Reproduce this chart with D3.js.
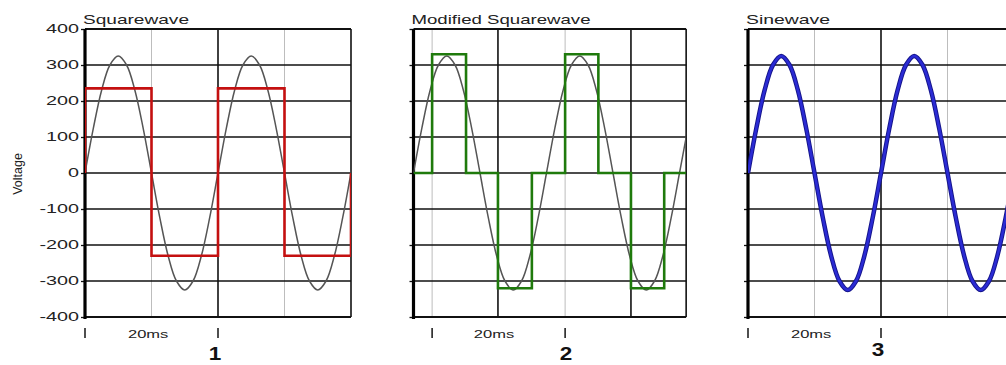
<!DOCTYPE html>
<html>
<head>
<meta charset="utf-8">
<script src="https://cdn.jsdelivr.net/npm/d3@7"></script>
<style>
  body { margin: 0; background: #fff; }
  svg { display: block; }
</style>
</head>
<body>
<svg id="chart"></svg>
<script>
// sine samples every 1.25 ms (50 Hz, ~325 V peak)
const timeMs = [0, 1.25, 2.5, 3.75, 5, 6.25, 7.5, 8.75, 10, 11.25, 12.5, 13.75, 15, 16.25, 17.5, 18.75,
  20, 21.25, 22.5, 23.75, 25, 26.25, 27.5, 28.75, 30, 31.25, 32.5, 33.75, 35, 36.25, 37.5, 38.75, 40, 41.25];
const sineV = [0, 124, 230, 300, 325, 300, 230, 124, 0, -124, -230, -300, -325, -300, -230, -124,
  0, 124, 230, 300, 325, 300, 230, 124, 0, -124, -230, -300, -325, -300, -230, -124, 0, 124];

// square wave corners
const squareT = [0, 0, 10, 10, 20, 20, 30, 30, 40, 40];
const squareV = [0, 235, 235, -230, -230, 235, 235, -230, -230, 0];

// modified square wave corners
const modT = [0, 2.8, 2.8, 7.9, 7.9, 12.7, 12.7, 17.8, 17.8, 22.8, 22.8, 27.8, 27.8, 32.7, 32.7, 37.7, 37.7, 41];
const modV = [0, 0, 330, 330, 0, 0, -320, -320, 0, 0, 330, 330, 0, 0, -320, -320, 0, 0];

const yTicks = [400, 300, 200, 100, 0, -100, -200, -300, -400];
const titles = ["Squarewave", "Modified Squarewave", "Sinewave"];
const panelNames = ["1", "2", "3"];

const width = 1006;
const height = 365;
const pxPerMs = 6.65;

const svg = d3.select("#chart").attr("width", width).attr("height", height);

const y = d3.scaleLinear().domain([-400, 400]).range([317, 29]);

const panels = [
  { left: 85, end: 40, gray: [10, 30], black: [20, 40], marks: [0, 20], label: 9.5, wave: "square",
    titleW: 106, numX: 215, numY: 360 },
  { left: 413.5, end: 41, gray: [2.8, 22.8], black: [12.7, 32.7, 41], marks: [2.8, 22.8], label: 12.1, wave: "mod",
    titleW: 179, numX: 566, numY: 360 },
  { left: 748, end: 40, gray: [10, 30], black: [20, 40], marks: [0, 20], label: 9.5, wave: "sine",
    titleW: 84, numX: 878, numY: 356 }
];

const font = "Liberation Sans, Arial, sans-serif";

panels.forEach(function (p, i) {
  let x = d3.scaleLinear().domain([0, p.end]).range([p.left, p.left + p.end * pxPerMs]);
  let g = svg.append("g");

  g.append("clipPath").attr("id", "clip" + i)
    .append("rect")
    .attr("x", x(0)).attr("y", y(400) - 3)
    .attr("width", x(p.end) - x(0)).attr("height", y(-400) - y(400) + 6);

  // vertical grid
  g.selectAll(".vg").data(p.gray).enter().append("line")
    .attr("x1", d => x(d)).attr("x2", d => x(d))
    .attr("y1", y(400)).attr("y2", y(-400))
    .attr("stroke", "#bdbdbd").attr("stroke-width", 1);
  g.selectAll(".vb").data(p.black).enter().append("line")
    .attr("x1", d => x(d)).attr("x2", d => x(d))
    .attr("y1", y(400)).attr("y2", y(-400))
    .attr("stroke", "#111").attr("stroke-width", 1.6);

  // horizontal grid
  g.selectAll(".hg").data(yTicks).enter().append("line")
    .attr("x1", x(0)).attr("x2", x(p.end))
    .attr("y1", d => y(d)).attr("y2", d => y(d))
    .attr("stroke", "#111").attr("stroke-width", d => (d === 400 || d === -400) ? 1.8 : 1.3);

  // y axis
  let yAxis = d3.axisLeft(y).tickValues(yTicks).tickSize(4).tickPadding(2)
    .tickFormat(i === 0 ? (d => String(d)) : "");
  let ax = g.append("g").attr("transform", "translate(" + x(0) + ",0)").call(yAxis);
  ax.select(".domain").remove();
  ax.selectAll(".tick line").attr("stroke", "#111").attr("stroke-width", 1.3);
  ax.selectAll(".tick text")
    .attr("font-family", font).attr("font-size", "12px").attr("fill", "#222")
    .attr("x", -6 / 1.65)
    .attr("transform", "scale(1.65,1)");
  g.append("line")
    .attr("x1", x(0)).attr("x2", x(0))
    .attr("y1", y(400)).attr("y2", y(-400) + 2)
    .attr("stroke", "#000").attr("stroke-width", 3.2);

  // waves
  let line = d3.line().x(d => x(d[0])).y(d => y(d[1]));
  let sinePts = timeMs.map((t, k) => [t, sineV[k]]);
  let wg = g.append("g").attr("clip-path", "url(#clip" + i + ")");

  if (p.wave === "sine") {
    wg.append("path").datum(sinePts)
      .attr("d", line.curve(d3.curveCatmullRom))
      .attr("fill", "none").attr("stroke", "#14148a").attr("stroke-width", 4.5);
    wg.append("path").datum(sinePts)
      .attr("d", line.curve(d3.curveCatmullRom))
      .attr("fill", "none").attr("stroke", "#2b2bd4").attr("stroke-width", 2.6);
  } else {
    wg.append("path").datum(sinePts)
      .attr("d", line.curve(d3.curveCatmullRom))
      .attr("fill", "none").attr("stroke", "#555").attr("stroke-width", 1.5);
    let tt = p.wave === "square" ? squareT : modT;
    let vv = p.wave === "square" ? squareV : modV;
    let pts = tt.map((t, k) => [t, vv[k]]);
    wg.append("path").datum(pts)
      .attr("d", line.curve(d3.curveLinear))
      .attr("fill", "none")
      .attr("stroke", p.wave === "square" ? "#c41010" : "#1f7a0c")
      .attr("stroke-width", 2.6);
  }

  // title
  g.append("text")
    .attr("x", x(0) - 2).attr("y", 24)
    .attr("font-family", font).attr("font-size", "13px").attr("fill", "#222")
    .attr("textLength", p.titleW).attr("lengthAdjust", "spacingAndGlyphs")
    .text(titles[i]);

  // bottom marks
  g.selectAll(".mk").data(p.marks).enter().append("line")
    .attr("x1", d => x(d)).attr("x2", d => x(d))
    .attr("y1", 328).attr("y2", 338)
    .attr("stroke", "#222").attr("stroke-width", 1.6);
  g.append("text")
    .attr("transform", "translate(" + x(p.label) + ",338) scale(1.5,1)")
    .attr("text-anchor", "middle")
    .attr("font-family", font).attr("font-size", "11px").attr("fill", "#222")
    .text("20ms");
  g.append("text")
    .attr("transform", "translate(" + p.numX + "," + p.numY + ") scale(1.25,1)")
    .attr("text-anchor", "middle")
    .attr("font-family", font).attr("font-size", "18px").attr("font-weight", "bold").attr("fill", "#111")
    .text(panelNames[i]);
});

svg.append("text")
  .attr("transform", "translate(22,174) rotate(-90)")
  .attr("text-anchor", "middle")
  .attr("font-family", font).attr("font-size", "12.5px").attr("fill", "#222")
  .text("Voltage");
</script>
</body>
</html>
